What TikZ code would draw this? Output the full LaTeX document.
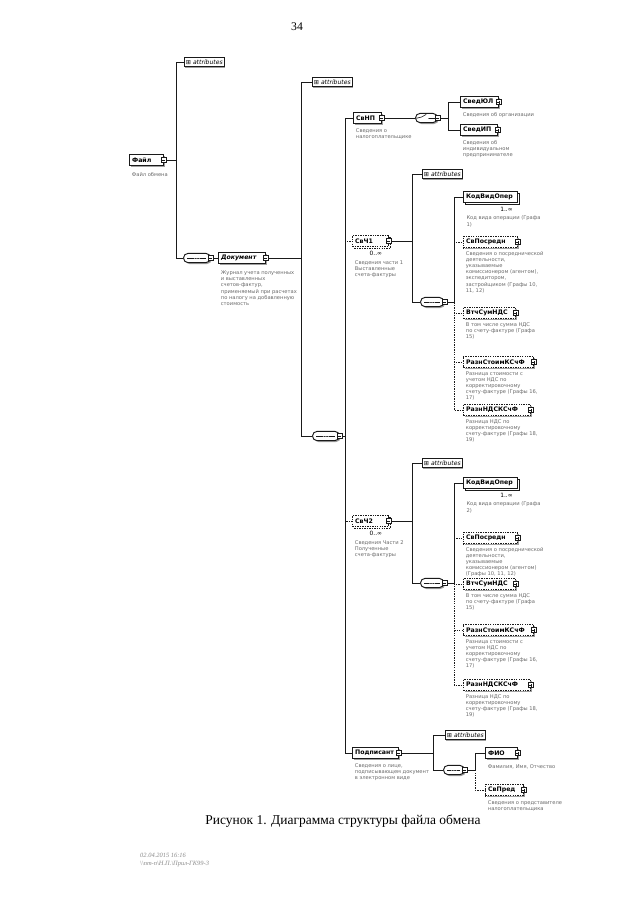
\documentclass[tikz,border=0pt]{standalone}
\usepackage{fontspec}
\setmainfont{DejaVu Sans}
\newfontfamily\serifcap{Liberation Serif}
\newfontfamily\symbfont{DejaVu Sans}
\usetikzlibrary{positioning,shadows}
\definecolor{schline}{HTML}{1A1A1A}
\definecolor{schshade}{HTML}{A0A0A0}
\definecolor{schdesc}{HTML}{6A6A6A}
\definecolor{stamp}{HTML}{8A8A8A}
\newcommand{\attrsign}{{\symbfont\upshape ⊞}}

\begin{document}
\begin{tikzpicture}[x=0.3mm,y=-0.3mm,
  elbase/.style={draw=schline,line width=0.8pt,fill=white,anchor=west,minimum height=3.3mm,inner sep=0.8mm,align=left,font=\fontsize{5.3}{6}\selectfont\bfseries},
  elbox/.style={elbase,drop shadow={shadow xshift=0.5mm,shadow yshift=-0.5mm,fill=schshade,opacity=1}},
  optbox/.style={elbox,dash pattern=on 1.2pt off 0.9pt},
  multibox/.style={elbase,copy shadow={shadow xshift=0.6mm,shadow yshift=-0.6mm}},
  optmulti/.style={multibox,dash pattern=on 1.2pt off 0.9pt},
  attrbox/.style={draw=schline,line width=0.5pt,fill=white,anchor=west,minimum height=2.8mm,inner sep=0.5mm,font=\fontsize{5.2}{6}\selectfont\itshape,drop shadow={shadow xshift=0.3mm,shadow yshift=-0.3mm,fill=schshade,opacity=1}},
  compbox/.style={draw=schline,line width=0.8pt,fill=white,anchor=west,rounded corners=1.4mm,minimum height=2.8mm,inner sep=0pt,drop shadow={shadow xshift=0.4mm,shadow yshift=-0.4mm,fill=schshade,opacity=1}},
  seqbox/.style={compbox,path picture={
      \draw[line width=0.5pt] ([xshift=1.2mm]path picture bounding box.west) -- ([xshift=-1.2mm]path picture bounding box.east);
      \foreach \dx in {-0.7,0,0.7} \fill ([xshift=\dx mm]path picture bounding box.center) circle (0.22mm);}},
  choicebox/.style={compbox,path picture={
      \draw[line width=0.5pt] ([xshift=0.8mm]path picture bounding box.west) -- ++(1.1mm,0) -- ++(0.9mm,0.8mm);
      \draw[line width=0.5pt] ([xshift=0.6mm]path picture bounding box.center) -- ([xshift=-0.8mm]path picture bounding box.east);
      \foreach \dy in {-0.6,0,0.6} \fill ([xshift=0.6mm,yshift=\dy mm]path picture bounding box.center) circle (0.2mm);}},
  tglm/.style={draw=schline,line width=0.4pt,fill=white,minimum size=1.5mm,inner sep=0pt,path picture={\draw[line width=0.4pt] ([xshift=0.3mm]path picture bounding box.west) -- ([xshift=-0.3mm]path picture bounding box.east);}},
  tglp/.style={tglm,path picture={\draw[line width=0.4pt] ([xshift=0.3mm]path picture bounding box.west) -- ([xshift=-0.3mm]path picture bounding box.east) ([yshift=0.3mm]path picture bounding box.south) -- ([yshift=-0.3mm]path picture bounding box.north);}},
  conn/.style={draw=schline,line width=0.6pt},
  optconn/.style={conn,dash pattern=on 1.2pt off 0.9pt},
  desc/.style={anchor=north west,align=left,inner sep=0pt,text=schdesc,font=\fontsize{4.4}{5.2}\selectfont},
  mult/.style={inner sep=0pt,font=\fontsize{5}{5}\selectfont}]
\fill[white] (0,0) rectangle (640,905);
\useasboundingbox (0,0) rectangle (640,905);

\node[font=\serifcap\fontsize{10}{10}\selectfont] (pagenum) at (297,27) {34};

% root
\node[elbox,text width=8.6mm] (file) at (129,160) {Файл};
\node[tglm] (file-t) at (file.east) {};
\node[desc,below=2mm of file.south west,anchor=north west,xshift=0.8mm] (file-d) {Файл обмена};
\node[attrbox] (file-attr) at (184,62) {\attrsign\ attributes};
\node[seqbox,minimum width=8.1mm] (file-seq) at (183,258) {};
\node[tglm] (file-seq-t) at (file-seq.east) {};

\node[elbox,text width=12.5mm,font=\fontsize{5.3}{6}\selectfont\bfseries\itshape] (doc) at (218,258) {Документ};
\node[tglm] (doc-t) at (doc.east) {};
\node[desc,below=2mm of doc.south west,anchor=north west,xshift=0.8mm] (doc-d) {Журнал учета полученных\\и выставленных\\счетов-фактур,\\применяемый при расчетах\\по налогу на добавленную\\стоимость};
\node[attrbox] (doc-attr) at (312,82) {\attrsign\ attributes};
\node[seqbox,minimum width=8.1mm] (doc-seq) at (312,436) {};
\node[tglm] (doc-seq-t) at (doc-seq.east) {};

% СвНП
\node[elbox,text width=6.8mm] (svnp) at (353,118) {СвНП};
\node[tglm] (svnp-t) at (svnp.east) {};
\node[desc,below=1.3mm of svnp.south west,anchor=north west,xshift=0.8mm] (svnp-d) {Сведения о\\налогоплательщике};
\node[choicebox,minimum width=6.6mm] (svnp-ch) at (415,118) {};
\node[tglm] (svnp-ch-t) at (svnp-ch.east) {};
\node[elbox,text width=9.8mm] (svedul) at (460,102) {СведЮЛ};
\node[tglp] (svedul-t) at (svedul.east) {};
\node[desc,below=1.3mm of svedul.south west,anchor=north west,xshift=0.8mm] (svedul-d) {Сведения об организации};
\node[elbox,text width=9.5mm] (svedip) at (460,130) {СведИП};
\node[tglp] (svedip-t) at (svedip.east) {};
\node[desc,below=1.3mm of svedip.south west,anchor=north west,xshift=0.8mm] (svedip-d) {Сведения об\\индивидуальном\\предпринимателе};

% СвЧ1
\node[optmulti,text width=9.2mm] (svch1) at (352,241) {СвЧ1};
\node[tglm] (svch1-t) at (svch1.east) {};
\node[mult,below left=1.2mm and 2mm of svch1.south east] (svch1-m) {0..∞};
\node[desc,xshift=0.8mm,yshift=-1.3mm] (svch1-d) at (svch1-m.south -| svch1.west) {Сведения части 1\\Выставленные\\счета-фактуры};
\node[attrbox] (ch1-attr) at (422,174) {\attrsign\ attributes};
\node[seqbox,minimum width=7mm] (ch1-seq) at (420,302) {};
\node[tglm] (ch1-seq-t) at (ch1-seq.east) {};
\node[multibox,text width=14.6mm] (ch1-kod) at (463,197) {КодВидОпер};
\node[mult,below left=1.2mm and 1.5mm of ch1-kod.south east] (ch1-kod-m) {1..∞};
\node[desc,xshift=1mm,yshift=-1.2mm] (ch1-kod-d) at (ch1-kod-m.south -| ch1-kod.west) {Код вида операции (Графа\\1)};
\node[optbox,text width=14.6mm] (ch1-posr) at (463,242) {СвПосредн};
\node[tglp] (ch1-posr-t) at (ch1-posr.east) {};
\node[desc,below=1mm of ch1-posr.south west,anchor=north west,xshift=0.8mm] (ch1-posr-d) {Сведения о посреднической\\деятельности,\\указываемые\\комиссионером (агентом),\\экспедитором,\\застройщиком (Графы 10,\\11, 12)};
\node[optbox,text width=14mm] (ch1-vtch) at (463,313) {ВтчСумНДС};
\node[tglp] (ch1-vtch-t) at (ch1-vtch.east) {};
\node[desc,below=1mm of ch1-vtch.south west,anchor=north west,xshift=0.8mm] (ch1-vtch-d) {В том числе сумма НДС\\по счету-фактуре (Графа\\15)};
\node[optbox,text width=19.4mm] (ch1-rst) at (463,362) {РазнСтоимКСчФ};
\node[tglp] (ch1-rst-t) at (ch1-rst.east) {};
\node[desc,below=1mm of ch1-rst.south west,anchor=north west,xshift=0.8mm] (ch1-rst-d) {Разница стоимости с\\учетом НДС по\\корректировочному\\счету-фактуре (Графы 16,\\17)};
\node[optbox,text width=18.5mm] (ch1-rnds) at (463,410) {РазнНДСКСчФ};
\node[tglp] (ch1-rnds-t) at (ch1-rnds.east) {};
\node[desc,below=1mm of ch1-rnds.south west,anchor=north west,xshift=0.8mm] (ch1-rnds-d) {Разница НДС по\\корректировочному\\счету-фактуре (Графы 18,\\19)};

% СвЧ2
\node[optmulti,text width=9.2mm] (svch2) at (352,521) {СвЧ2};
\node[tglm] (svch2-t) at (svch2.east) {};
\node[mult,below left=1.2mm and 2mm of svch2.south east] (svch2-m) {0..∞};
\node[desc,xshift=0.8mm,yshift=-1.3mm] (svch2-d) at (svch2-m.south -| svch2.west) {Сведения Части 2\\Полученные\\счета-фактуры};
\node[attrbox] (ch2-attr) at (422,463) {\attrsign\ attributes};
\node[seqbox,minimum width=7mm] (ch2-seq) at (420,583) {};
\node[tglm] (ch2-seq-t) at (ch2-seq.east) {};
\node[multibox,text width=14.6mm] (ch2-kod) at (463,483) {КодВидОпер};
\node[mult,below left=1.2mm and 1.5mm of ch2-kod.south east] (ch2-kod-m) {1..∞};
\node[desc,xshift=1mm,yshift=-1.2mm] (ch2-kod-d) at (ch2-kod-m.south -| ch2-kod.west) {Код вида операции (Графа\\2)};
\node[optbox,text width=14.6mm] (ch2-posr) at (463,538) {СвПосредн};
\node[tglp] (ch2-posr-t) at (ch2-posr.east) {};
\node[desc,below=1mm of ch2-posr.south west,anchor=north west,xshift=0.8mm] (ch2-posr-d) {Сведения о посреднической\\деятельности,\\указываемые\\комиссионером (агентом)\\(Графы 10, 11, 12)};
\node[optbox,text width=14mm] (ch2-vtch) at (463,584) {ВтчСумНДС};
\node[tglp] (ch2-vtch-t) at (ch2-vtch.east) {};
\node[desc,below=1mm of ch2-vtch.south west,anchor=north west,xshift=0.8mm] (ch2-vtch-d) {В том числе сумма НДС\\по счету-фактуре (Графа\\15)};
\node[optbox,text width=19.4mm] (ch2-rst) at (463,630) {РазнСтоимКСчФ};
\node[tglp] (ch2-rst-t) at (ch2-rst.east) {};
\node[desc,below=1mm of ch2-rst.south west,anchor=north west,xshift=0.8mm] (ch2-rst-d) {Разница стоимости с\\учетом НДС по\\корректировочному\\счету-фактуре (Графы 16,\\17)};
\node[optbox,text width=18.5mm] (ch2-rnds) at (463,685) {РазнНДСКСчФ};
\node[tglp] (ch2-rnds-t) at (ch2-rnds.east) {};
\node[desc,below=1mm of ch2-rnds.south west,anchor=north west,xshift=0.8mm] (ch2-rnds-d) {Разница НДС по\\корректировочному\\счету-фактуре (Графы 18,\\19)};

% Подписант
\node[elbox,text width=12.2mm] (podp) at (352,753) {Подписант};
\node[tglm] (podp-t) at (podp.east) {};
\node[desc,below=1.2mm of podp.south west,anchor=north west,xshift=0.8mm] (podp-d) {Сведения о лице,\\подписывающем документ\\в электронном виде};
\node[attrbox] (podp-attr) at (445,735) {\attrsign\ attributes};
\node[seqbox,minimum width=6.3mm] (podp-seq) at (443,770) {};
\node[tglm] (podp-seq-t) at (podp-seq.east) {};
\node[elbox,text width=8mm] (fio) at (485,753) {ФИО};
\node[tglp] (fio-t) at (fio.east) {};
\node[desc,below=1.5mm of fio.south west,anchor=north west,xshift=0.8mm] (fio-d) {Фамилия, Имя, Отчество};
\node[optbox,text width=9.8mm] (svpred) at (485,790) {СвПред};
\node[tglp] (svpred-t) at (svpred.east) {};
\node[desc,below=1.2mm of svpred.south west,anchor=north west,xshift=0.8mm] (svpred-d) {Сведения о представителе\\налогоплательщика};

% buses
\coordinate (file-bus) at (176,0);
\coordinate (doc-bus) at (301,0);
\coordinate (dseq-bus) at (345,0);
\coordinate (svnp-bus) at (448,0);
\coordinate (ch1-bus) at (412,0);
\coordinate (ch1s-bus) at (454,0);
\coordinate (ch2-bus) at (412,0);
\coordinate (ch2s-bus) at (454,0);
\coordinate (podp-bus) at (433,0);
\coordinate (podps-bus) at (475,0);

\draw[conn] (file-t.east) -- (file-t.east -| file-bus) |- (file-attr.west);
\draw[conn] (file-t.east) -- (file-t.east -| file-bus) |- (file-seq.west);
\draw[conn] (file-seq-t.east) -- (doc.west);
\draw[conn] (doc-t.east) -- (doc-t.east -| doc-bus) |- (doc-attr.west);
\draw[conn] (doc-t.east) -- (doc-t.east -| doc-bus) |- (doc-seq.west);
\draw[conn] (doc-seq-t.east) -- (doc-seq-t.east -| dseq-bus) |- (svnp.west);
\draw[conn] (doc-seq-t.east) -- (doc-seq-t.east -| dseq-bus) |- (podp.west);
\draw[optconn] (doc-seq-t.east) -- (doc-seq-t.east -| dseq-bus) |- (svch1.west);
\draw[optconn] (doc-seq-t.east) -- (doc-seq-t.east -| dseq-bus) |- (svch2.west);
\draw[conn] (svnp-t.east) -- (svnp-ch.west);
\draw[conn] (svnp-ch-t.east) -- (svnp-ch-t.east -| svnp-bus) |- (svedul.west);
\draw[conn] (svnp-ch-t.east) -- (svnp-ch-t.east -| svnp-bus) |- (svedip.west);
\draw[conn] (svch1-t.east) -- (svch1-t.east -| ch1-bus) |- (ch1-attr.west);
\draw[conn] (svch1-t.east) -- (svch1-t.east -| ch1-bus) |- (ch1-seq.west);
\draw[conn] (ch1-seq-t.east) -- (ch1-seq-t.east -| ch1s-bus) |- (ch1-kod.west);
\draw[optconn] (ch1-seq-t.east) -- (ch1-seq-t.east -| ch1s-bus) |- (ch1-posr.west);
\draw[optconn] (ch1-seq-t.east) -- (ch1-seq-t.east -| ch1s-bus) |- (ch1-vtch.west);
\draw[optconn] (ch1-seq-t.east) -- (ch1-seq-t.east -| ch1s-bus) |- (ch1-rst.west);
\draw[optconn] (ch1-seq-t.east) -- (ch1-seq-t.east -| ch1s-bus) |- (ch1-rnds.west);
\draw[conn] (svch2-t.east) -- (svch2-t.east -| ch2-bus) |- (ch2-attr.west);
\draw[conn] (svch2-t.east) -- (svch2-t.east -| ch2-bus) |- (ch2-seq.west);
\draw[conn] (ch2-seq-t.east) -- (ch2-seq-t.east -| ch2s-bus) |- (ch2-kod.west);
\draw[optconn] (ch2-seq-t.east) -- (ch2-seq-t.east -| ch2s-bus) |- (ch2-posr.west);
\draw[optconn] (ch2-seq-t.east) -- (ch2-seq-t.east -| ch2s-bus) |- (ch2-vtch.west);
\draw[optconn] (ch2-seq-t.east) -- (ch2-seq-t.east -| ch2s-bus) |- (ch2-rst.west);
\draw[optconn] (ch2-seq-t.east) -- (ch2-seq-t.east -| ch2s-bus) |- (ch2-rnds.west);
\draw[conn] (podp-t.east) -- (podp-t.east -| podp-bus) |- (podp-attr.west);
\draw[conn] (podp-t.east) -- (podp-t.east -| podp-bus) |- (podp-seq.west);
\draw[conn] (podp-seq-t.east) -- (podp-seq-t.east -| podps-bus) |- (fio.west);
\draw[optconn] (podp-seq-t.east) -- (podp-seq-t.east -| podps-bus) |- (svpred.west);

% caption and stamp
\node[font=\serifcap\fontsize{11.5}{13}\selectfont] (caption) at (343,821) {Рисунок 1. Диаграмма структуры файла обмена};
\node[anchor=north west,align=left,inner sep=0pt,text=stamp,font=\serifcap\itshape\fontsize{5.5}{6.5}\selectfont] (stamp) at (140,853) {02.04.2015 16:16\\\textbackslash\textbackslash nm-n\textbackslash Н.П.\textbackslash Прил-ГК99-3};
\end{tikzpicture}
\end{document}
